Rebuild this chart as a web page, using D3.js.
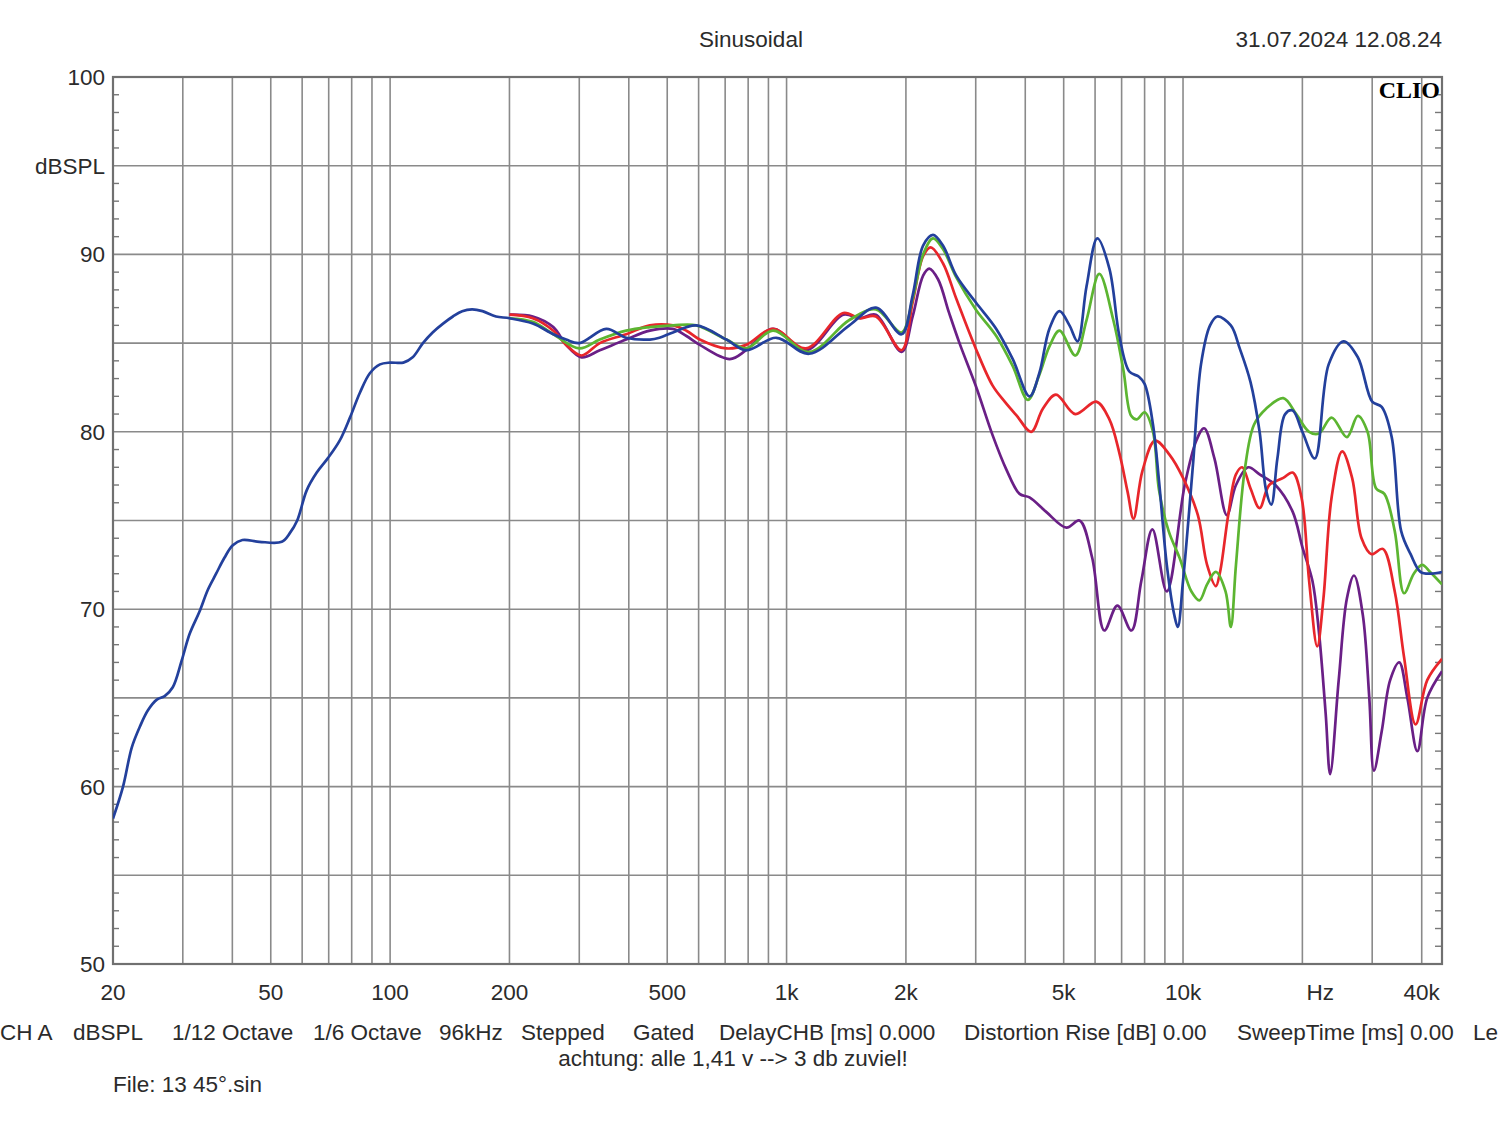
<!DOCTYPE html>
<html>
<head>
<meta charset="utf-8">
<script src="https://cdn.jsdelivr.net/npm/d3@7"></script>
<style>
  body { margin: 0; background: #fff; }
  text { font-family: 'Liberation Sans', Arial, sans-serif; fill: #2b2b2b; }
</style>
</head>
<body>
<svg width="1500" height="1121"></svg>
<script>
// frequency response, [Hz, dBSPL]
const lowEnd = [[20, 58.2], [21.2, 60.0], [22.3, 62.2], [23.4, 63.4], [24.5, 64.3], [25.8, 64.9], [27, 65.1], [28.3, 65.6],
  [29.8, 67.1], [31.2, 68.6], [33.1, 69.9], [34.7, 71.1], [36.4, 72.0], [38.2, 72.9], [40.1, 73.6], [42.4, 73.9],
  [46.8, 73.8], [53.3, 73.8], [55.9, 74.3], [58.3, 75.0], [61.6, 76.7], [65.3, 77.7], [69.6, 78.5], [74.6, 79.5],
  [79.2, 80.8], [83.9, 82.2], [88.9, 83.3], [94.3, 83.8], [100, 83.9], [108, 83.9], [114, 84.2], [121, 85.0],
  [128, 85.6], [136, 86.1], [144, 86.5], [152, 86.8], [161, 86.9], [171, 86.8], [185, 86.5]]

const blue = [[200, 86.4], [229, 86.1], [258, 85.5], [278, 85.2], [300, 85.0], [351, 85.8], [394, 85.3], [452, 85.2],
  [478, 85.3], [517, 85.6], [592, 86.0], [705, 85.2], [791, 84.6], [942, 85.3], [1140, 84.4], [1440, 86.0], [1680, 87.0],
  [1950, 85.5], [2080, 87.7], [2210, 90.5], [2340, 91.1], [2480, 90.5], [2680, 88.8], [3000, 87.3], [3380, 85.8],
  [3720, 84.1], [4100, 82.0], [4340, 83.3], [4600, 85.8], [4880, 86.8], [5170, 86.0], [5420, 85.1], [5710, 88.2],
  [6080, 90.9], [6520, 89.2], [6910, 85.4], [7320, 83.4], [7740, 83.1], [8000, 82.7], [8400, 80.4], [8700, 77.2],
  [9100, 72.5], [9500, 69.7], [9700, 69.0], [10000, 71.6], [10600, 78.2], [11100, 83.8], [11700, 86.0], [12200, 86.5],
  [13200, 86.0], [13900, 84.7], [14800, 82.8], [15600, 80.0], [16200, 76.7], [16700, 75.9], [17300, 78.5], [18100, 81.0],
  [18900, 81.2], [20000, 80.0], [21500, 78.5], [23300, 83.8], [25400, 85.1], [27600, 84.2], [30000, 81.7], [31700, 81.4],
  [33600, 79.7], [35500, 74.4], [37500, 73.1], [39700, 72.1], [42000, 72.0], [45000, 72.1]]

const green = [[200, 86.4], [229, 86.2], [258, 85.5], [300, 84.7], [338, 85.2], [394, 85.7], [452, 85.9], [517, 86.0],
  [592, 86.0], [705, 85.2], [791, 84.7], [924, 85.7], [1140, 84.5], [1440, 86.3], [1680, 86.9], [1950, 85.6], [2080, 87.5],
  [2210, 90.0], [2340, 90.9], [2480, 90.3], [2680, 88.7], [3000, 86.9], [3380, 85.4], [3720, 83.7], [4060, 81.8],
  [4340, 83.2], [4600, 84.8], [4880, 85.7], [5350, 84.3], [5710, 86.3], [6150, 88.9], [6670, 86.3], [7070, 83.5],
  [7400, 80.9], [7650, 80.7], [8000, 81.1], [8400, 80.0], [8700, 76.7], [9200, 74.4], [9800, 72.9], [10500, 71.0],
  [11000, 70.5], [11500, 71.4], [12100, 72.1], [12800, 71.0], [13200, 69.0], [13600, 72.5], [14300, 77.8], [15100, 80.4],
  [16200, 81.3], [17900, 81.9], [19300, 81.0], [20800, 80.0], [22000, 79.9], [23700, 80.8], [25900, 79.7], [27600, 80.9],
  [29200, 80.0], [30700, 76.8], [32200, 76.5], [34200, 74.4], [36100, 70.9], [38200, 72.0], [40100, 72.5], [42000, 72.1],
  [45000, 71.4]]

const red = [[200, 86.6], [229, 86.4], [258, 85.7], [278, 84.9], [304, 84.3], [338, 85.0], [394, 85.5], [452, 86.0],
  [517, 86.0], [559, 85.7], [604, 85.2], [705, 84.7], [791, 84.9], [924, 85.8], [1120, 84.7], [1390, 86.7], [1530, 86.4],
  [1680, 86.5], [1950, 84.6], [2080, 87.3], [2210, 89.9], [2310, 90.4], [2480, 89.5], [2680, 87.5], [3000, 84.7],
  [3310, 82.6], [3550, 81.7], [3810, 80.9], [4140, 80.0], [4430, 81.3], [4780, 82.1], [5350, 81.0], [6040, 81.7],
  [6520, 80.7], [6910, 78.8], [7250, 76.6], [7500, 75.1], [7900, 77.8], [8500, 79.5], [9250, 78.7], [10000, 77.4],
  [10900, 75.3], [11500, 72.5], [12100, 71.3], [12400, 72.1], [13000, 75.3], [13600, 77.6], [14100, 78.0], [14800, 76.8],
  [15600, 75.7], [16500, 77.0], [17900, 77.4], [18900, 77.7], [19900, 76.3], [20800, 71.6], [21800, 67.9], [22600, 70.6],
  [23700, 76.3], [25200, 78.9], [26700, 77.4], [28200, 74.0], [29900, 73.1], [31900, 73.4], [34200, 71.0], [36100, 67.3],
  [38600, 63.5], [41300, 66.0], [45000, 67.2]]

const purple = [[200, 86.6], [229, 86.5], [258, 85.9], [278, 84.9], [304, 84.2], [338, 84.6], [394, 85.2], [452, 85.7],
  [517, 85.8], [559, 85.4], [604, 84.9], [719, 84.1], [791, 84.6], [924, 85.8], [1120, 84.6], [1390, 86.6], [1530, 86.4],
  [1680, 86.6], [1950, 84.5], [2080, 86.5], [2210, 88.8], [2290, 89.2], [2410, 88.6], [2570, 86.7], [2730, 85.0],
  [3000, 82.6], [3310, 79.8], [3580, 77.9], [3870, 76.5], [4100, 76.3], [4510, 75.5], [5080, 74.6], [5480, 75.0],
  [5900, 72.9], [6330, 68.8], [6830, 70.2], [7410, 68.8], [7850, 71.6], [8370, 74.5], [9100, 71.0], [10100, 77.0],
  [10800, 79.5], [11300, 80.2], [12000, 78.5], [12900, 75.3], [13600, 77.0], [14600, 78.0], [15600, 77.6], [17100, 77.0],
  [18900, 75.5], [20000, 73.5], [21200, 71.6], [22000, 68.8], [22900, 64.1], [23500, 60.7], [24700, 66.0], [25900, 70.6],
  [27000, 71.9], [28400, 69.7], [29500, 65.0], [30300, 60.9], [31700, 63.1], [33300, 66.0], [35100, 67.0], [36800, 65.0],
  [39000, 62.0], [41300, 65.0], [45000, 66.5]]

const xTicks = [[20, '20'], [50, '50'], [100, '100'], [200, '200'], [500, '500'], [1000, '1k'], [2000, '2k'],
  [5000, '5k'], [10000, '10k'], [40000, '40k']]
const yTicks = [[100, '100'], [95, 'dBSPL'], [90, '90'], [80, '80'], [70, '70'], [60, '60'], [50, '50']]

const footer = [[0, 'CH A'], [73, 'dBSPL'], [172, '1/12 Octave'], [313, '1/6 Octave'], [439, '96kHz'], [521, 'Stepped'],
  [633, 'Gated'], [719, 'DelayCHB [ms] 0.000'], [964, 'Distortion Rise [dB] 0.00'], [1237, 'SweepTime [ms] 0.00'],
  [1473, 'Le']]

let svg = d3.select('svg')
let pLeft = 113, pRight = 1442, pTop = 77, pBottom = 964

let x = d3.scaleLog().domain([20, 45000]).range([pLeft, pRight])
let y = d3.scaleLinear().domain([50, 100]).range([pBottom, pTop])

svg.append('rect').attr('width', 1500).attr('height', 1121).attr('fill', '#fff')

// grid: n * 10^k lines, every 5 dB
let vLines = []
for (let k = 1; k <= 4; k++) {
  for (let n = 1; n <= 9; n++) {
    let f = n * Math.pow(10, k)
    if (f > 20 && f < 45000) vLines.push(f)
  }
}

let grid = svg.append('g').attr('stroke', '#8a8a8a').attr('stroke-width', 1.6)

grid.selectAll('.v').data(vLines).enter().append('line')
  .attr('x1', d => x(d)).attr('x2', d => x(d))
  .attr('y1', pTop).attr('y2', pBottom)

grid.selectAll('.h').data(d3.range(55, 100, 5)).enter().append('line')
  .attr('x1', pLeft).attr('x2', pRight)
  .attr('y1', d => y(d)).attr('y2', d => y(d))

// 1 dB minor ticks on both sides
let minor = d3.range(51, 100).filter(d => d % 5 !== 0)
let ticks = svg.append('g').attr('stroke', '#777').attr('stroke-width', 1.4)
ticks.selectAll('.l').data(minor).enter().append('line')
  .attr('x1', pLeft).attr('x2', pLeft + 6)
  .attr('y1', d => y(d)).attr('y2', d => y(d))
ticks.selectAll('.r').data(minor).enter().append('line')
  .attr('x1', pRight - 7).attr('x2', pRight)
  .attr('y1', d => y(d)).attr('y2', d => y(d))

svg.append('rect')
  .attr('x', pLeft).attr('y', pTop)
  .attr('width', pRight - pLeft).attr('height', pBottom - pTop)
  .attr('fill', 'none').attr('stroke', '#707070').attr('stroke-width', 2.2)

// curves
svg.append('clipPath').attr('id', 'plot').append('rect')
  .attr('x', pLeft).attr('y', pTop).attr('width', pRight - pLeft).attr('height', pBottom - pTop)

let line = d3.line()
  .x(d => x(d[0]))
  .y(d => y(d[1]))
  .curve(d3.curveCatmullRom.alpha(0.5))

let series = [
  { data: purple, color: '#6a1f86' },
  { data: red, color: '#e8262b' },
  { data: green, color: '#5cb531' },
  { data: lowEnd.concat(blue), color: '#23409c' }
]

svg.append('g').attr('clip-path', 'url(#plot)')
  .selectAll('path').data(series).enter().append('path')
  .attr('d', d => line(d.data))
  .attr('fill', 'none')
  .attr('stroke', d => d.color)
  .attr('stroke-width', 2.7)
  .attr('stroke-linejoin', 'round')

// labels
svg.selectAll('.yl').data(yTicks).enter().append('text')
  .attr('x', 105).attr('y', d => y(d[0]) + 8)
  .attr('text-anchor', 'end').attr('font-size', 22.5)
  .text(d => d[1])

svg.selectAll('.xl').data(xTicks).enter().append('text')
  .attr('x', d => x(d[0])).attr('y', 1000)
  .attr('text-anchor', 'middle').attr('font-size', 22.5)
  .text(d => d[1])

svg.append('text').attr('x', x(20000) + 18).attr('y', 1000)
  .attr('text-anchor', 'middle').attr('font-size', 22.5).text('Hz')

svg.append('text').attr('x', 751).attr('y', 47)
  .attr('text-anchor', 'middle').attr('font-size', 22.5).text('Sinusoidal')

svg.append('text').attr('x', 1442).attr('y', 47)
  .attr('text-anchor', 'end').attr('font-size', 22.5).text('31.07.2024 12.08.24')

svg.append('text').attr('x', 1440).attr('y', 98)
  .attr('text-anchor', 'end').attr('font-size', 24).attr('font-weight', 'bold')
  .style('font-family', "'Liberation Serif', 'DejaVu Serif', serif").style('fill', '#000')
  .text('CLIO')

svg.selectAll('.ft').data(footer).enter().append('text')
  .attr('x', d => d[0]).attr('y', 1040)
  .attr('font-size', 22.5)
  .text(d => d[1])

svg.append('text').attr('x', 733).attr('y', 1066)
  .attr('text-anchor', 'middle').attr('font-size', 22.5)
  .text('achtung: alle 1,41 v --> 3 db zuviel!')

svg.append('text').attr('x', 113).attr('y', 1092)
  .attr('font-size', 22.5).text('File: 13 45°.sin')
</script>
</body>
</html>
